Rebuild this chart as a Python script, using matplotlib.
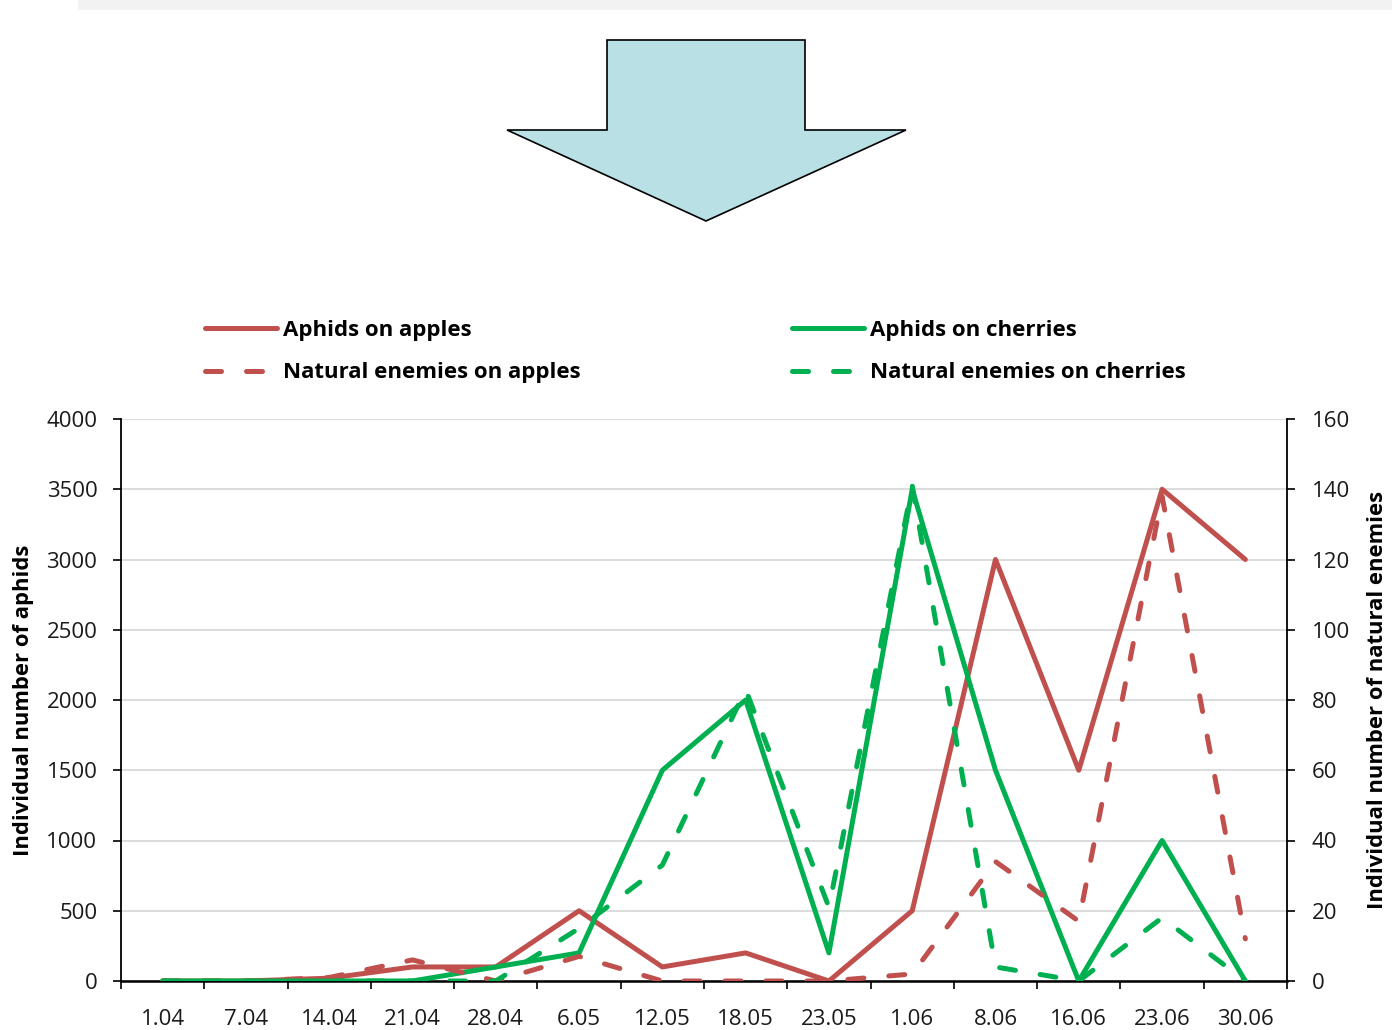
import matplotlib
matplotlib.use("Agg")
import matplotlib.pyplot as plt
import numpy as np
from matplotlib.patches import Polygon, Rectangle

plt.rcParams['font.family'] = ['Open Sans', 'DejaVu Sans']

# ---------------- data ----------------
dates = ['1.04', '7.04', '14.04', '21.04', '28.04', '6.05', '12.05', '18.05',
         '23.05', '1.06', '8.06', '16.06', '23.06', '30.06']
aphids_apples = [0, 0, 20, 100, 100, 500, 100, 200, 0, 500, 3000, 1500, 3500, 3000]
aphids_cherries = [0, 0, 0, 0, 100, 200, 1500, 2000, 200, 3500, 1500, 0, 1000, 0]
enemies_apples = [0, 0, 1, 6, 0, 7, 0, 0, 0, 2, 34, 17, 138, 12]
enemies_cherries = [0, 0, 0, 0, 0, 15, 33, 83, 21, 141, 4, 0, 18, 0]

left_ticks = list(range(0, 4001, 500))
right_ticks = list(range(0, 161, 20))

RED = '#c0504d'
GREEN = '#00b050'

W, H = 1392, 1030
fig = plt.figure(figsize=(W / 100, H / 100), dpi=100)

# top grey strip and arrow (decoration)
fig.patches.append(Rectangle((78 / W, 1 - 10 / H), 1 - 78 / W, 10 / H,
                             transform=fig.transFigure, facecolor='#f2f2f2',
                             edgecolor='none'))
arrow_px = [(607, 40), (805, 40), (805, 130), (906, 130), (706, 221), (507, 130), (607, 130)]
arrow = Polygon([(x / W, 1 - y / H) for x, y in arrow_px], closed=True,
                transform=fig.transFigure, facecolor='#b9e0e4', edgecolor='black',
                linewidth=1.2)
fig.patches.append(arrow)

ax = fig.add_axes([121 / W, 49 / H, 1166 / W, 562 / H])
ax2 = ax.twinx()

x = np.arange(len(dates))
lw = 3.6
dash = (3.2, 5.0)

l1, = ax.plot(x, aphids_apples, color=RED, lw=lw, solid_joinstyle='round',
              solid_capstyle='round', zorder=3)
l3, = ax.plot(x, aphids_cherries, color=GREEN, lw=lw, solid_joinstyle='round',
              solid_capstyle='round', zorder=3)
l2, = ax2.plot(x, enemies_apples, color=RED, lw=lw, linestyle=(0, dash),
               dash_capstyle='round', dash_joinstyle='round')
l4, = ax2.plot(x, enemies_cherries, color=GREEN, lw=lw, linestyle=(0, dash),
               dash_capstyle='round', dash_joinstyle='round')

ax.set_xlim(-0.5, len(dates) - 0.5)
ax.set_ylim(0, 4000)
ax2.set_ylim(0, 160)
ax.set_yticks(left_ticks)
ax2.set_yticks(right_ticks)

ax.set_xticks(np.arange(-0.5, len(dates), 1))
ax.set_xticklabels([])
ax.set_xticks(x, minor=True)
ax.set_xticklabels(dates, minor=True)
ax.tick_params(axis='x', which='major', length=6, width=1.2, direction='out', color='black')
ax.tick_params(axis='x', which='minor', length=0, pad=20, labelsize=16, labelcolor='#1a1a1a')
ax.tick_params(axis='y', length=6, width=1.2, direction='out', pad=11, labelsize=16,
               labelcolor='#1a1a1a')
ax2.tick_params(axis='y', length=6, width=1.2, direction='out', pad=12, labelsize=16,
                labelcolor='#1a1a1a')

ax.yaxis.grid(True, color='#d9d9d9', lw=1.3)
ax.set_axisbelow(True)

for a in (ax, ax2):
    a.spines['top'].set_visible(False)
ax.spines['right'].set_visible(False)
ax.spines['left'].set_linewidth(1.3)
ax.spines['bottom'].set_linewidth(1.8)
ax2.spines['left'].set_visible(False)
ax2.spines['bottom'].set_visible(False)
ax2.spines['right'].set_linewidth(1.3)

ax.set_ylabel('Individual number of aphids', fontsize=15.8, fontweight='bold', labelpad=9)
ax2.set_ylabel('Individual number of natural enemies', fontsize=15.8, fontweight='bold',
               labelpad=12, rotation=90)

handles = [l1, l2, l3, l4]
labels = ['Aphids on apples', 'Natural enemies on apples',
          'Aphids on cherries', 'Natural enemies on cherries']
leg = fig.legend(handles, labels, loc='upper left', ncol=2,
                 bbox_to_anchor=(205 / W, 1 - 320 / H), frameon=False,
                 borderpad=0, borderaxespad=0, handlelength=3.25, handletextpad=0.27,
                 columnspacing=9.5, labelspacing=0.96,
                 prop={'weight': 'bold', 'size': 16})

fig.savefig('out.png', dpi=100)
